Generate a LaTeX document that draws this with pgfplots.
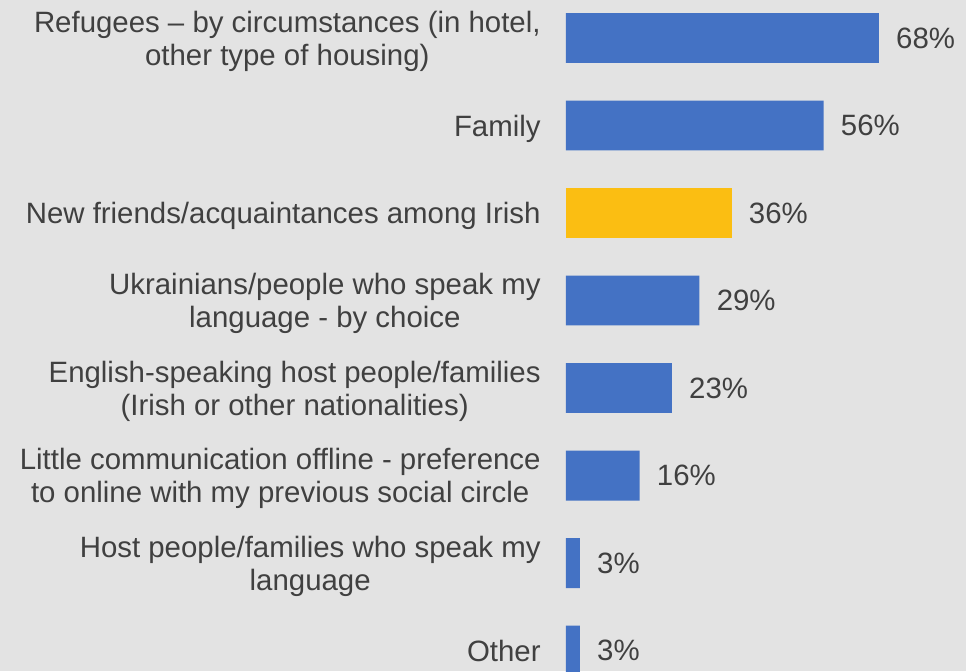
\documentclass[border=0pt]{standalone}
\usepackage{pgfplots}
\pgfplotsset{compat=1.18}
\usepackage{fontspec}
\setmainfont{Liberation Sans}

\definecolor{bgcol}{HTML}{E3E3E3}
\definecolor{barblue}{HTML}{4472C4}
\definecolor{bargold}{HTML}{FBBE12}
\definecolor{txt}{HTML}{404040}

\begin{document}
\begin{tikzpicture}
% 1px of the reference = 0.5pt here
\fill[bgcol] (-283pt,0pt) rectangle (200pt,335.5pt);
\begin{axis}[
    at={(0pt,0pt)}, anchor=south west,
    scale only axis,
    width=200pt, height=335.5pt,
    xbar, bar shift=0pt, bar width=0.571,
    xmin=0, xmax=86.96,
    ymin=-0.434, ymax=7.234,
    y dir=reverse,
    axis line style={draw=none},
    xtick=\empty,
    ytick={0,...,7},
    major tick length=0pt,
    yticklabels={
        {Refugees – by circumstances (in hotel,\\other type of housing)},
        {Family},
        {New friends/acquaintances among Irish},
        {Ukrainians/people who speak my\\language - by choice},
        {English-speaking host people/families\\(Irish or other nationalities)},
        {Little communication offline - preference\\to online with my previous social circle},
        {Host people/families who speak my\\language},
        {Other}
    },
    yticklabel style={align=center, anchor=east, inner sep=0pt, xshift=-12.5pt,
        text depth=0pt, font=\fontsize{14.7}{16.5}\selectfont, text=txt},
    /pgf/number format/assume math mode=true,
    nodes near coords={\pgfmathprintnumber{\pgfplotspointmeta}\%},
    every node near coord/.style={anchor=west, inner sep=0pt, xshift=8.5pt,
        text depth=0pt, font=\fontsize{14.7}{16.5}\selectfont, text=txt},
    clip=false,
]
\addplot[fill=barblue, draw=none] coordinates {
    (68,0) (56,1) (29,3) (23,4) (16,5) (3,6) (3,7)
};
\addplot[fill=bargold, draw=none] coordinates {
    (36,2)
};
\end{axis}
\pgfresetboundingbox
\useasboundingbox (-283pt,0pt) rectangle (200pt,335.5pt);
\end{tikzpicture}
\end{document}
